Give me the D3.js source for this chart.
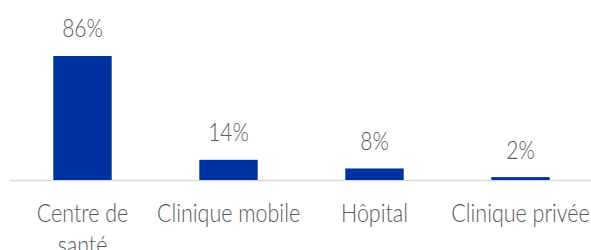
<!DOCTYPE html>
<html>
<head>
<meta charset="utf-8">
<script src="https://cdn.jsdelivr.net/npm/d3@7"></script>
<style>
  html, body { margin: 0; padding: 0; background: #fff; }
  svg { display: block; }
  text { font-family: Lato, "Open Sans", sans-serif; font-weight: 300; fill: #595959; }
</style>
</head>
<body>
<svg id="chart" width="591" height="250"></svg>
<script>
const categories = ["Centre de santé", "Clinique mobile", "Hôpital", "Clinique privée"];
const values = [86, 14, 8, 2];
const valueLabels = ["86%", "14%", "8%", "2%"];

const W = 591, H = 250;
const baseY = 180;
const stretch = 1.18;
const svg = d3.select("#chart");

const x = d3.scaleBand().domain(categories).range([9.5, 593.5]).paddingInner(0.6).paddingOuter(0.3);
const y = d3.scaleLinear().domain([0, 100]).range([baseY, baseY - 144.2]);

svg.append("line")
  .attr("x1", 10).attr("x2", W)
  .attr("y1", baseY + 0.5).attr("y2", baseY + 0.5)
  .attr("stroke", "#d9d9d9").attr("stroke-width", 1.5);

svg.selectAll("rect.bar").data(values).enter().append("rect")
  .attr("class", "bar")
  .attr("x", (d, i) => x(categories[i]))
  .attr("width", x.bandwidth())
  .attr("y", d => y(d))
  .attr("height", d => baseY - y(d))
  .attr("fill", "#0033a0");

svg.selectAll("text.val").data(values).enter().append("text")
  .attr("class", "val")
  .attr("transform", (d, i) => `translate(${x(categories[i]) + x.bandwidth() / 2},${y(d) - 18.5}) scale(1,${stretch})`)
  .attr("text-anchor", "middle")
  .attr("font-size", 21)
  .text((d, i) => valueLabels[i]);

const catG = svg.selectAll("text.cat").data(categories).enter().append("text")
  .attr("class", "cat")
  .attr("transform", d => `translate(${x(d) + x.bandwidth() / 2},221.5) scale(1,${stretch})`)
  .attr("text-anchor", "middle")
  .attr("font-size", 21.5);

catG.each(function (d) {
  const t = d3.select(this);
  const words = d.split(" ");
  const maxW = 145.5;
  let line = [];
  let tspan = t.append("tspan").attr("x", 0).attr("dy", 0);
  words.forEach(w => {
    line.push(w);
    tspan.text(line.join(" "));
    if (tspan.node().getComputedTextLength() > maxW && line.length > 1) {
      line.pop();
      tspan.text(line.join(" "));
      line = [w];
      tspan = t.append("tspan").attr("x", 0).attr("dy", 27.5).text(w);
    }
  });
});
</script>
</body>
</html>
